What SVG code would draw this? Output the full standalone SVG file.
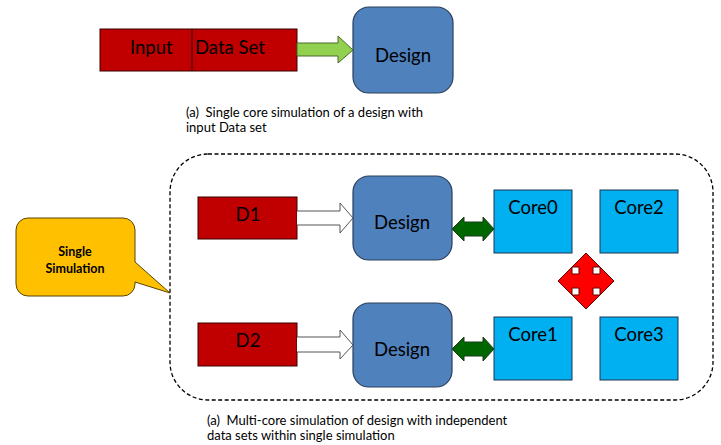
<svg xmlns="http://www.w3.org/2000/svg" width="721" height="445" viewBox="0 0 721 445">
<style>
text{font-family:Lato,"Open Sans","Liberation Sans",sans-serif;fill:#000;white-space:pre}
.red{fill:#C00000;stroke:#3a0000;stroke-width:1}
.des{fill:#4F81BD;stroke:#2a3f5c;stroke-width:1.2}
.core{fill:#00B0F0;stroke:#1f3550;stroke-width:1}
.big{font-size:18.5px}
.cap{font-size:13px}
.wa{fill:#fff;stroke:#555;stroke-width:1}
.ga{fill:#006600;stroke:#1a3a1a;stroke-width:1}
</style>
<rect x="0" y="0" width="721" height="445" fill="#fff"/>
<g id="input-data">
<rect class="red" x="100" y="29" width="197" height="42"/>
<line x1="192" y1="29" x2="192" y2="71" stroke="#3a0000" stroke-width="1"/>
<text class="big" x="130" y="54">Input</text>
<text class="big" x="195" y="54">Data Set</text>
</g>
<g id="design-top">
<rect class="des" x="353" y="7" width="100" height="86" rx="16"/>
<text class="big" x="403" y="62" text-anchor="middle">Design</text>
</g>
<g id="caption-top">
<text class="cap" x="186" y="117">(a)  Single core simulation of a design with</text>
<text class="cap" x="186" y="132">input Data set</text>
</g>
<g id="boundary">
<rect x="170" y="154" width="543" height="246" rx="38" fill="none" stroke="#000" stroke-width="1.3" stroke-dasharray="4,2.5"/>
</g>
<g id="callout">
<path d="M28,218 H123 A12,12 0 0 1 135,230 V262 L170,293 L135,282 V284 A12,12 0 0 1 123,296 H28 A12,12 0 0 1 16,284 V230 A12,12 0 0 1 28,218 Z" fill="#FFC000" stroke="#5a4500" stroke-width="1"/>
<text x="75" y="256" text-anchor="middle" font-size="12.5" font-weight="bold">Single</text>
<text x="75" y="273" text-anchor="middle" font-size="12.5" font-weight="bold">Simulation</text>
</g>
<g id="d1">
<rect class="red" x="198" y="197" width="99" height="42"/>
<text class="big" x="248" y="221" text-anchor="middle">D1</text>
</g>
<g id="d2">
<rect class="red" x="198" y="323" width="99" height="43"/>
<text class="big" x="248" y="347" text-anchor="middle">D2</text>
</g>
<g id="design1">
<rect class="des" x="353" y="176" width="99" height="84" rx="16"/>
<text class="big" x="402" y="229" text-anchor="middle">Design</text>
</g>
<g id="design2">
<rect class="des" x="353" y="303" width="99" height="84" rx="16"/>
<text class="big" x="402" y="356" text-anchor="middle">Design</text>
</g>
<g id="core0">
<rect class="core" x="494" y="190" width="78" height="63"/>
<text class="big" x="533" y="214" text-anchor="middle">Core0</text>
</g>
<g id="core2">
<rect class="core" x="600" y="190" width="78" height="63"/>
<text class="big" x="639" y="214" text-anchor="middle">Core2</text>
</g>
<g id="core1">
<rect class="core" x="494" y="317" width="78" height="63"/>
<text class="big" x="533" y="341" text-anchor="middle">Core1</text>
</g>
<g id="core3">
<rect class="core" x="600" y="317" width="78" height="63"/>
<text class="big" x="639" y="341" text-anchor="middle">Core3</text>
</g>
<g id="connectors">
<path d="M297,43 H338 V36 L353,50 L338,63 V56 H297 Z" fill="#92D050" stroke="#4a6a2a" stroke-width="1"/>
<path class="wa" d="M297,211 H340 V203 L353,218 L340,233 V225 H297"/>
<path class="wa" d="M297,337 H340 V330 L353,345 L340,359 V352 H297"/>
<path class="ga" d="M452,229 L464,217 V222 H483 V217 L494,229 L483,241 V236 H464 V241 Z"/>
<path class="ga" d="M452,349 L464,337 V342 H483 V337 L494,349 L483,361 V356 H464 V361 Z"/>
<path d="M586,253 L600,267 H593 V274 H600 V267 L614,281 L600,295 V288 H593 V295 H600 L586,309 L572,295 H579 V288 H572 V295 L558,281 L572,267 V274 H579 V267 H572 Z" fill="#FF0000" stroke="#600" stroke-width="1"/>
</g>
<g id="caption-bottom">
<text class="cap" x="207" y="425">(a)  Multi-core simulation of design with independent</text>
<text class="cap" x="207" y="440">data sets within single simulation</text>
</g>
</svg>
